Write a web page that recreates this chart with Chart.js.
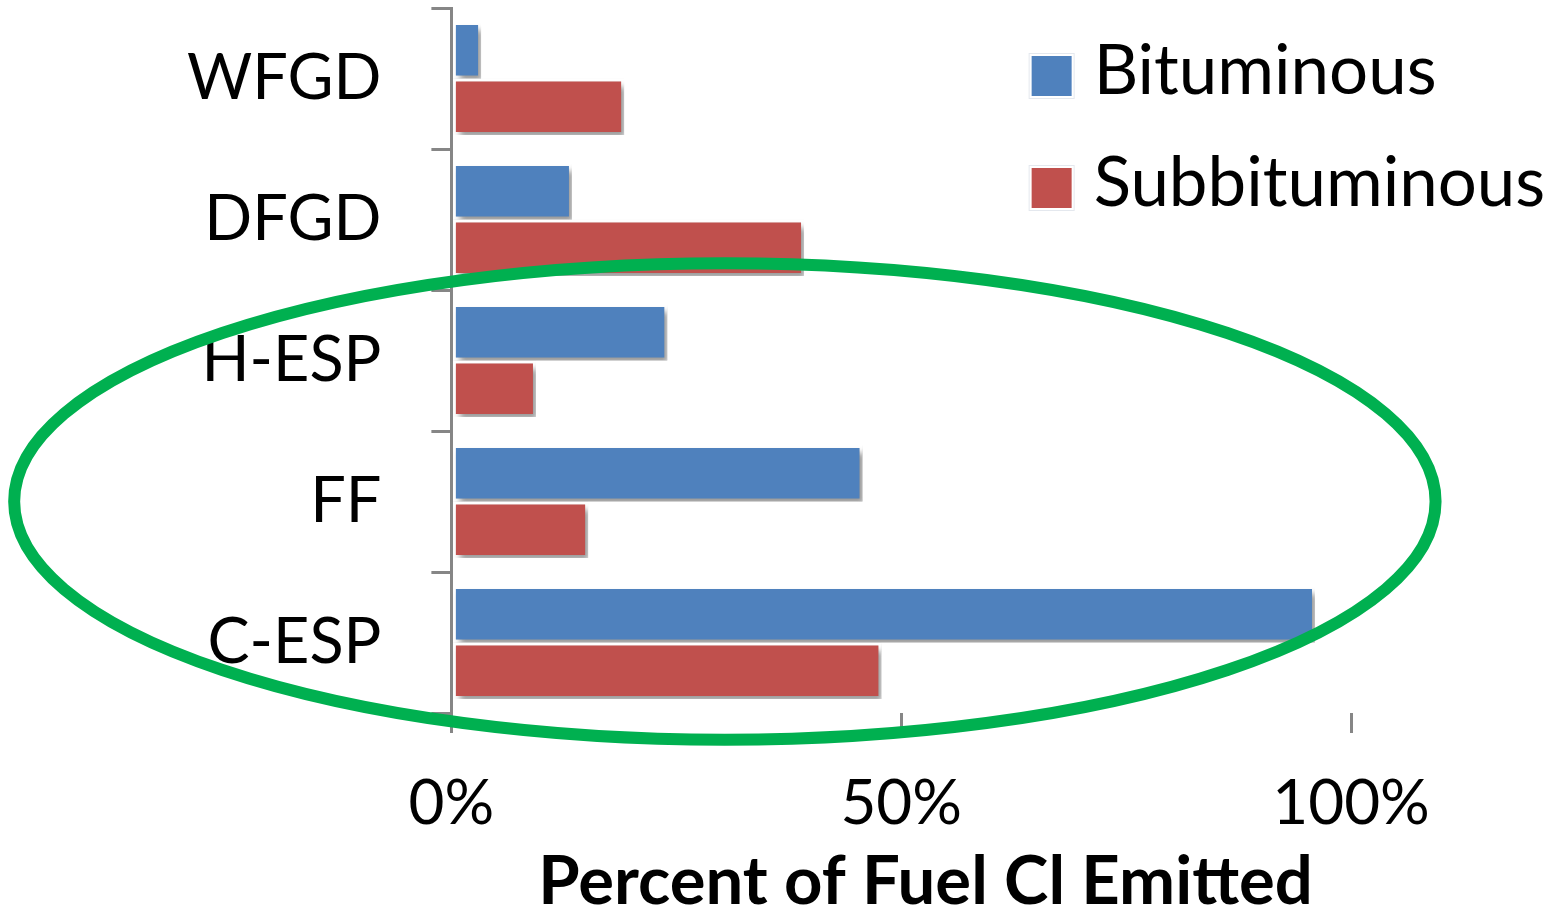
<!DOCTYPE html>
<html>
<head>
<meta charset="utf-8">
<script src="https://cdn.jsdelivr.net/npm/chart.js@4.4.0/dist/chart.umd.min.js"></script>
<style>
  html, body { margin: 0; padding: 0; background: #fff; }
  #wrap { width: 1557px; height: 912px; position: relative; }
</style>
</head>
<body>
<div id="wrap"><canvas id="chart1"></canvas></div>
<script>
// Data
const categories = ['WFGD', 'DFGD', 'H-ESP', 'FF', 'C-ESP'];
const bituminous = [3.3, 13.4, 24, 45.7, 96];
const subbituminous = [19.2, 39.2, 9.4, 15.2, 47.8];
const xTicks = [0, 50, 100];

const FONT = 'Lato';
const axisGray = '#868686';

// green ellipse drawn around the ESP / FF groups
const ellipseNote = { centerValue: 30.4, centerCategory: 'FF', rxValue: 79, ryCategories: 1.69 };

const barShadow = {
  id: 'barShadow',
  beforeDatasetsDraw(chart) {
    const ctx = chart.ctx;
    ctx.save();
    ctx.shadowColor = 'rgba(0,0,0,0.4)';
    ctx.shadowBlur = 6;
    ctx.shadowOffsetX = 4;
    ctx.shadowOffsetY = 5;
  },
  afterDatasetsDraw(chart) {
    chart.ctx.restore();
  }
};

const sideLegend = {
  id: 'sideLegend',
  afterDatasetsDraw(chart) {
    const ctx = chart.ctx;
    const x = chart.scales.x;
    const left = x.getPixelForValue(64.5);
    const top = chart.chartArea.top;
    ctx.save();
    ctx.font = '69px ' + FONT;
    ctx.textBaseline = 'middle';
    chart.data.datasets.forEach((ds, i) => {
      const cy = top + 68 + i * 112;
      ctx.fillStyle = '#e4e8ee';
      ctx.fillRect(left - 3, cy - 23, 46, 46);
      ctx.fillStyle = '#fff';
      ctx.fillRect(left - 2, cy - 22, 44, 44);
      ctx.fillStyle = ds.backgroundColor;
      ctx.fillRect(left, cy - 20, 40, 40);
      ctx.fillStyle = '#000';
      ctx.fillText(ds.label, left + 62, cy - 4);
    });
    ctx.restore();
  }
};

const ellipse = {
  id: 'ellipse',
  afterDraw(chart) {
    const x = chart.scales.x, y = chart.scales.y;
    const cx = x.getPixelForValue(ellipseNote.centerValue);
    const cy = y.getPixelForValue(categories.indexOf(ellipseNote.centerCategory));
    const rx = x.getPixelForValue(ellipseNote.rxValue) - x.getPixelForValue(0);
    const step = y.getPixelForValue(1) - y.getPixelForValue(0);
    const ry = Math.abs(step) * ellipseNote.ryCategories;
    const ctx = chart.ctx;
    ctx.save();
    ctx.strokeStyle = '#00B050';
    ctx.lineWidth = 12;
    ctx.beginPath();
    ctx.ellipse(cx, cy, rx, ry, 0, 0, Math.PI * 2);
    ctx.stroke();
    ctx.restore();
  }
};

new Chart(document.getElementById('chart1').getContext('2d'), {
  type: 'bar',
  data: {
    labels: categories,
    datasets: [
      {
        label: 'Bituminous',
        data: bituminous,
        backgroundColor: '#4F81BD',
        borderColor: '#ffffff',
        borderWidth: 3,
        borderSkipped: false
      },
      {
        label: 'Subbituminous',
        data: subbituminous,
        backgroundColor: '#C0504D',
        borderColor: '#ffffff',
        borderWidth: 3,
        borderSkipped: false
      }
    ]
  },
  options: {
    indexAxis: 'y',
    responsive: true,
    maintainAspectRatio: false,
    animation: false,
    categoryPercentage: 0.8,
    barPercentage: 1.0,
    layout: { padding: { top: 8, right: 206, bottom: 0, left: 137 } },
    plugins: {
      legend: { display: false },
      tooltip: { enabled: false }
    },
    scales: {
      x: {
        min: 0,
        max: 100,
        afterBuildTicks: scale => { scale.ticks = xTicks.map(v => ({ value: v })); },
        afterFit: scale => { scale.height = 199; },
        border: { display: false },
        grid: { drawOnChartArea: false, drawTicks: true, tickLength: 20, color: axisGray, lineWidth: 3 },
        ticks: {
          color: '#000',
          font: { family: FONT, size: 62 },
          padding: 34,
          maxRotation: 0,
          callback: v => v + '%'
        },
        title: {
          display: true,
          text: '   Percent of Fuel Cl Emitted',
          color: '#000',
          font: { family: FONT, size: 67, weight: 'bold', lineHeight: 1 },
          padding: { top: 0, bottom: -4 }
        }
      },
      y: {
        afterFit: scale => { scale.paddingTop = 0; scale.paddingBottom = 0; },
        border: { display: true, color: axisGray, width: 3 },
        grid: { drawOnChartArea: false, drawTicks: true, tickLength: 20, color: axisGray, lineWidth: 3, offset: true },
        ticks: {
          color: '#000',
          font: { family: FONT, size: 63 },
          padding: 50
        }
      }
    }
  },
  plugins: [barShadow, sideLegend, ellipse]
});
</script>
</body>
</html>
